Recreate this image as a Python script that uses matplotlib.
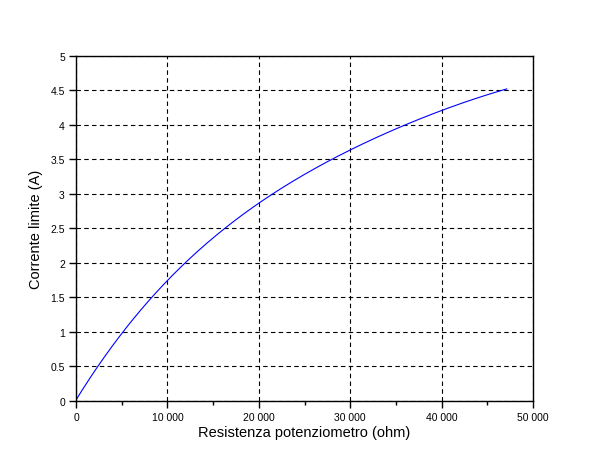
import numpy as np
import matplotlib
matplotlib.use("Agg")
import matplotlib.pyplot as plt
from matplotlib.ticker import FuncFormatter, MultipleLocator

plt.rcParams['font.family'] = ['Liberation Sans', 'DejaVu Sans']

# values
resistenza = [0, 2260, 5180, 8200, 10000, 11930, 16380, 20000, 21590,
              27720, 30000, 36000, 40000, 47120]
corrente = [0.0, 0.5, 1.0, 1.5, 1.74, 2.0, 2.5, 2.87, 3.0,
            3.5, 3.64, 4.0, 4.20, 4.526]

# smooth curve through the read points
xs = np.linspace(resistenza[0], resistenza[-1], 300)
coef = np.polyfit(resistenza, corrente, 4)
ys = np.polyval(coef, xs)

fig = plt.figure(figsize=(6.1, 4.6), dpi=100)
ax = fig.add_axes([0.1246, 0.1261, 0.7492, 0.75])
ax.plot(xs, ys, color='#0000ff', linewidth=0.8)

ax.set_xlim(0, 50000)
ax.set_ylim(0, 5)
ax.xaxis.set_major_locator(MultipleLocator(10000))
ax.xaxis.set_minor_locator(MultipleLocator(5000))
ax.yaxis.set_major_locator(MultipleLocator(0.5))
ax.xaxis.set_major_formatter(FuncFormatter(lambda v, p: f"{int(v):,}".replace(",", " ")))
ax.yaxis.set_major_formatter(FuncFormatter(lambda v, p: f"{v:g}"))
ax.tick_params(axis='both', which='major', direction='out', length=5, width=1,
               labelsize=7.5, pad=3)
ax.tick_params(axis='x', which='minor', direction='out', length=3, width=1)
ax.grid(True, which='major', color='black', linestyle=(0, (4, 3)), linewidth=0.8)
for s in ax.spines.values():
    s.set_linewidth(1)

ax.set_xlabel('Resistenza potenziometro (ohm)', fontsize=10.5, labelpad=2)
ax.set_ylabel('Corrente limite (A)', fontsize=10.5, labelpad=5)

fig.savefig('out.png', dpi=100)
